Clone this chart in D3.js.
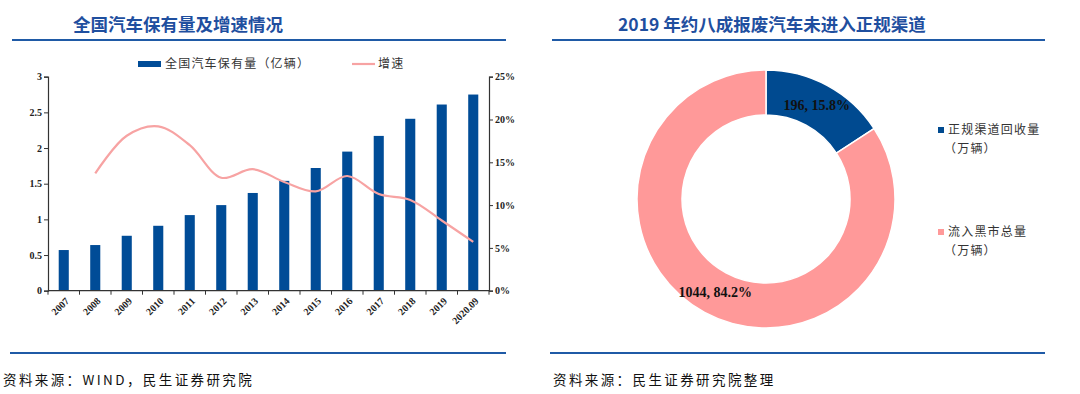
<!DOCTYPE html>
<html>
<head>
<meta charset="utf-8">
<script src="https://cdn.jsdelivr.net/npm/d3@7/dist/d3.min.js"></script>
<style>
  body { margin: 0; background: #fff; }
  svg { display: block; }
  .title { font-family: "Noto Sans CJK SC", sans-serif; font-weight: 700; font-size: 17.5px; fill: #1f4f9f; }
  .source { font-family: "Noto Sans CJK SC", sans-serif; font-size: 13.5px; fill: #111; letter-spacing: 2.4px; }
  .tick-label { font-family: "Liberation Serif", serif; font-weight: 700; font-size: 10px; fill: #222; }
  .legend { font-family: "Noto Sans CJK SC", sans-serif; font-size: 12px; fill: #333; letter-spacing: 1.2px; }
</style>
</head>
<body>
<svg id="chart" width="1080" height="394"></svg>
<script>
// Vehicle stock (100 million) and growth rate
const years = ["2007", "2008", "2009", "2010", "2011", "2012", "2013", "2014",
               "2015", "2016", "2017", "2018", "2019", "2020.09"];
const stock = [0.57, 0.64, 0.77, 0.91, 1.06, 1.20, 1.37, 1.54, 1.72, 1.95, 2.17, 2.41, 2.61, 2.75];
const growth = [null, 13.7, 18.1, 19.2, 17.0, 13.2, 14.2, 12.7, 11.6, 13.4, 11.3, 10.6, 8.2, 5.7];
const leftTicks = [0, 0.5, 1, 1.5, 2, 2.5, 3];
const rightTicks = [0, 5, 10, 15, 20, 25];

// Scrapped vehicles 2019 (10k units)
const pieNames = ["正规渠道回收量", "流入黑市总量"];
const pieValues = [196, 1044];

const blue = "#004c97";
const pink = "#f7a3a3";
const pieBlue = "#004a90";
const piePink = "#ff9999";
const ruleColor = "#1f5aa6";

const svg = d3.select("#chart");

// ---------- frame: titles, rules, sources ----------
svg.append("text").attr("class", "title")
    .attr("x", 73).attr("y", 31).text("全国汽车保有量及增速情况");
svg.append("text").attr("class", "title")
    .attr("x", 618).attr("y", 31).text("2019 年约八成报废汽车未进入正规渠道");

[[12, 506, 40], [552, 1045, 40], [10, 506, 353], [550, 1045, 353]].forEach(([x1, x2, y]) => {
    svg.append("line")
        .attr("x1", x1).attr("x2", x2).attr("y1", y).attr("y2", y)
        .attr("stroke", ruleColor).attr("stroke-width", 2.2);
});

svg.append("text").attr("class", "source")
    .attr("x", 3).attr("y", 385).text("资料来源：WIND，民生证券研究院");
svg.append("text").attr("class", "source")
    .attr("x", 553).attr("y", 385).text("资料来源：民生证券研究院整理");

// ---------- left chart: bars + line ----------
const plot = { left: 48, right: 489, top: 76.7, bottom: 290.7 };

const x = d3.scaleBand()
    .domain(years)
    .range([plot.left, plot.right])
    .paddingInner(0.68)
    .paddingOuter(0.34);

const yLeft = d3.scaleLinear().domain([0, 3]).range([plot.bottom, plot.top]);
const yRight = d3.scaleLinear().domain([0, 25]).range([plot.bottom, plot.top]);

const left = svg.append("g");

left.selectAll(".bar")
    .data(years)
    .enter()
    .append("rect")
    .attr("class", "bar")
    .attr("x", d => x(d))
    .attr("width", x.bandwidth())
    .attr("y", (d, i) => yLeft(stock[i]))
    .attr("height", (d, i) => plot.bottom - yLeft(stock[i]))
    .attr("fill", blue);

const line = d3.line()
    .defined(d => d.v !== null)
    .x(d => x(d.k) + x.bandwidth() / 2)
    .y(d => yRight(d.v))
    .curve(d3.curveCatmullRom.alpha(0.5));

left.append("path")
    .datum(years.map((k, i) => ({ k, v: growth[i] })))
    .attr("d", line)
    .attr("fill", "none")
    .attr("stroke", pink)
    .attr("stroke-width", 2.2);

// left axis
const axisL = left.append("g")
    .attr("transform", `translate(${plot.left},0)`)
    .call(d3.axisLeft(yLeft).tickValues(leftTicks).tickSize(4).tickFormat(d3.format("")));
axisL.selectAll("text").attr("class", "tick-label").attr("x", -6);

// right axis
const axisR = left.append("g")
    .attr("transform", `translate(${plot.right},0)`)
    .call(d3.axisRight(yRight).tickValues(rightTicks).tickSize(4).tickFormat(d => d + "%"));
axisR.selectAll("text").attr("class", "tick-label").attr("x", 6);

[axisL, axisR].forEach(a => {
    a.select(".domain").attr("stroke", "#333").attr("stroke-width", 1.2);
    a.selectAll(".tick line").attr("stroke", "#333");
});

// bottom axis: ticks at band boundaries, rotated labels
const bottom = left.append("g");
bottom.append("line")
    .attr("x1", plot.left).attr("x2", plot.right)
    .attr("y1", plot.bottom).attr("y2", plot.bottom)
    .attr("stroke", "#333").attr("stroke-width", 1.2);

d3.range(years.length + 1).forEach(i => {
    const bx = plot.left + x.step() * i;
    bottom.append("line")
        .attr("x1", bx).attr("x2", bx)
        .attr("y1", plot.bottom).attr("y2", plot.bottom + 4)
        .attr("stroke", "#333");
});

bottom.selectAll(".xlab")
    .data(years)
    .enter()
    .append("text")
    .attr("class", "tick-label")
    .attr("text-anchor", "end")
    .attr("transform", d => `translate(${x(d) + x.bandwidth() / 2 + 6},${plot.bottom + 11}) rotate(-45)`)
    .text(d => d);

// legend
const legL = left.append("g");
legL.append("rect").attr("x", 138).attr("y", 61).attr("width", 23).attr("height", 6).attr("fill", blue);
legL.append("text").attr("class", "legend").attr("x", 165).attr("y", 68).text("全国汽车保有量（亿辆）");
legL.append("line").attr("x1", 352).attr("x2", 375).attr("y1", 64).attr("y2", 64)
    .attr("stroke", pink).attr("stroke-width", 2.2);
legL.append("text").attr("class", "legend").attr("x", 378).attr("y", 68).text("增速");

// ---------- right chart: donut ----------
const cx = 766, cy = 199;
const outerR = 129, innerR = 84;
const total = d3.sum(pieValues);

const pie = d3.pie().sort(null).value(d => d);
const arc = d3.arc().innerRadius(innerR).outerRadius(outerR);

const donut = svg.append("g").attr("transform", `translate(${cx},${cy})`);

const slices = donut.selectAll(".slice")
    .data(pie(pieValues))
    .enter()
    .append("g")
    .attr("class", "slice");

slices.append("path")
    .attr("d", arc)
    .attr("fill", (d, i) => i === 0 ? pieBlue : piePink)
    .attr("stroke", "#fff")
    .attr("stroke-width", 1.5);

slices.append("text")
    .attr("x", d => arc.centroid(d)[0])
    .attr("y", d => arc.centroid(d)[1])
    .attr("text-anchor", "middle")
    .attr("dominant-baseline", "central")
    .style("font-family", "'Liberation Serif', serif")
    .style("font-weight", "700")
    .style("font-size", "14px")
    .attr("fill", "#111")
    .text(d => `${d.data}, ${(d.data / total * 100).toFixed(1)}%`);

// legend
const legR = svg.append("g");
pieNames.forEach((name, i) => {
    const ly = [130, 232][i];
    legR.append("rect")
        .attr("x", 938).attr("y", ly - 3).attr("width", 6).attr("height", 6)
        .attr("fill", i === 0 ? pieBlue : piePink);
    legR.append("text").attr("class", "legend")
        .attr("x", 948).attr("y", ly + 4).text(name);
    legR.append("text").attr("class", "legend")
        .attr("x", 944).attr("y", ly + 23).text("（万辆）");
});
</script>
</body>
</html>
